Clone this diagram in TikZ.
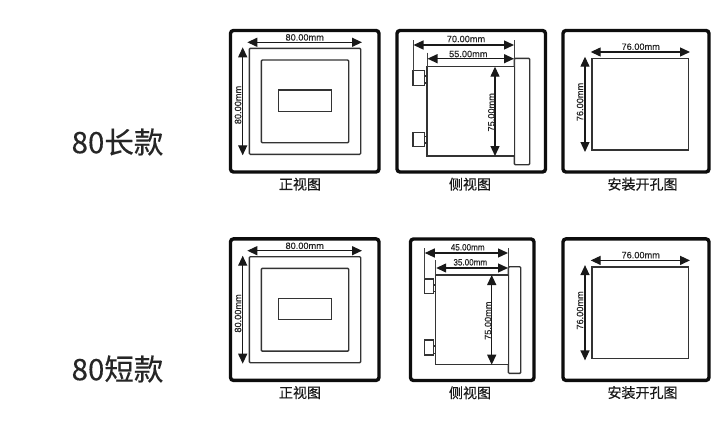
\documentclass[tikz,border=0pt]{standalone}
\usepackage{fontspec}
\setmainfont{Liberation Sans}
\newfontfamily\cjk{Noto Sans CJK SC}
\newfontfamily\cjkcap[FakeBold=0.5]{Noto Sans CJK SC}
\newfontfamily\cjkbig[FakeBold=0.25]{Noto Sans CJK SC}
\newfontfamily\dimfont[FakeBold=0.25]{Liberation Sans}
\usetikzlibrary{arrows.meta}
\tikzset{
  framebox/.style={draw=black!95,line width=3.4pt,rounded corners=3pt},
  partbox/.style={draw=black!80,fill=white,line width=1.4pt,rounded corners=1pt},
  sharpbox/.style={draw=black!80,fill=white,line width=1.4pt},
  dimline/.style={draw=black!90,line width=1.3pt,{Triangle[length=10pt,width=9pt]}-{Triangle[length=10pt,width=9pt]}},
  extline/.style={draw=black!75,line width=1pt},
  dimtext/.style={font=\dimfont\fontsize{9.2}{9}\selectfont,text=black!85,inner sep=0pt},
  dimtextv/.style={dimtext,rotate=90},
  captiontext/.style={font=\cjkcap\fontsize{14}{14}\selectfont,text=black!90,inner sep=0pt},
  bigtext/.style={font=\cjkbig\fontsize{29.5}{30}\selectfont,text=black!85,inner sep=0pt}
}
\newcommand{\bx}[6]{\coordinate (#1a) at (#3,#4);\coordinate (#1b) at (#5,#6);\draw[#2] (#1a) rectangle (#1b);}
\newcommand{\dm}[5]{\coordinate (#1a) at (#2,#3);\coordinate (#1b) at (#4,#5);\draw[dimline] (#1a) -- (#1b);}
\newcommand{\ext}[5]{\coordinate (#1a) at (#2,#3);\coordinate (#1b) at (#4,#5);\draw[extline] (#1a) -- (#1b);}
\begin{document}
\begin{tikzpicture}[x=1pt,y=-1pt]
\useasboundingbox (0,0) rectangle (720,434);
\fill[white] (0,0) rectangle (720,434);
\node[bigtext] (titleA) at (117.5,142) {80长款};
\node[bigtext] (titleB) at (117.5,369) {80短款};
% front views and cut-outs repeat
\foreach \k/\dy in {A/0,B/208.4}{
  \begin{scope}[shift={(0,\dy)}]
    \bx{f\k o}{framebox}{230.5}{30.5}{379}{172}
    \bx{f\k m}{partbox}{249.3}{48.3}{360.7}{154.3}
    \bx{f\k i}{partbox}{261.3}{60}{348.7}{142.7}
    \bx{f\k w}{sharpbox}{278.7}{90}{331.3}{111.3}
    \dm{f\k h}{247.3}{42.3}{362}{42.3}
    \dm{f\k v}{242.7}{47.3}{242.7}{155.3}
    \node[dimtext] (f\k ht) at (304.7,37.4) {80.00mm};
    \node[dimtextv] (f\k vt) at (238,105) {80.00mm};
    \node[captiontext] (f\k c) at (300,184.2) {正视图};
    \bx{c\k o}{framebox}{563}{30.5}{709}{172}
    \bx{c\k s}{sharpbox}{592}{58.7}{688.3}{150}
    \dm{c\k h}{590.7}{52}{690}{52}
    \dm{c\k v}{585}{56.7}{585}{152}
    \node[dimtext] (c\k ht) at (640.7,46.7) {76.00mm};
    \node[dimtextv] (c\k vt) at (580,102) {76.00mm};
    \node[captiontext] (c\k c) at (642.5,184.2) {安装开孔图};
  \end{scope}
}
% side view, long
\bx{so}{framebox}{397}{30.5}{545.5}{172}
\bx{sf}{partbox}{514.3}{58.3}{529.7}{164.7}
\bx{sb}{sharpbox}{427}{66.7}{514.3}{156}
\bx{sc}{sharpbox}{413}{70.7}{424.3}{85.7}
\bx{sn}{sharpbox}{424.3}{76}{427}{83}
\bx{sd}{sharpbox}{413}{132.3}{424.3}{146.7}
\bx{sp}{sharpbox}{424.3}{136.7}{427}{143}
\ext{se1}{413}{40}{413}{70.7}
\ext{se2}{514.3}{40}{514.3}{66.7}
\ext{se3}{427}{52.7}{427}{66.7}
\dm{s70}{413.5}{45}{514}{45}
\dm{s55}{427.5}{58.7}{514}{58.7}
\dm{s75}{495}{66.7}{495}{156}
\node[dimtext] (s70t) at (466,39) {70.00mm};
\node[dimtext] (s55t) at (468.3,54) {55.00mm};
\node[dimtextv] (s75t) at (491.3,112.3) {75.00mm};
\node[captiontext] (scap) at (470,184.2) {侧视图};
% side view, short
\bx{to}{framebox}{410.5}{239}{534}{380.5}
\bx{tf}{partbox}{508.3}{266.7}{520.7}{373.3}
\bx{tb}{sharpbox}{435.7}{275}{508.3}{364.7}
\bx{tc}{sharpbox}{424.3}{279}{433.7}{293.3}
\bx{tn}{sharpbox}{433.7}{285}{435.7}{291.7}
\bx{td}{sharpbox}{424.3}{340}{433.7}{355}
\bx{tp}{sharpbox}{433.7}{346}{435.7}{353.3}
\ext{te1}{424.3}{248.3}{424.3}{279}
\ext{te2}{508.3}{248.3}{508.3}{275}
\ext{te3}{435.7}{260}{435.7}{275}
\dm{t45}{424.8}{253}{508}{253}
\dm{t35}{436.2}{268}{508}{268}
\dm{t75}{491.7}{275}{491.7}{364.7}
\node[dimtext,xscale=.88] (t45t) at (467.7,247.3) {45.00mm};
\node[dimtext,xscale=.88] (t35t) at (470.3,262.3) {35.00mm};
\node[dimtextv] (t75t) at (488,320.7) {75.00mm};
\node[captiontext] (tcap) at (470,392.8) {侧视图};
\end{tikzpicture}
\end{document}
